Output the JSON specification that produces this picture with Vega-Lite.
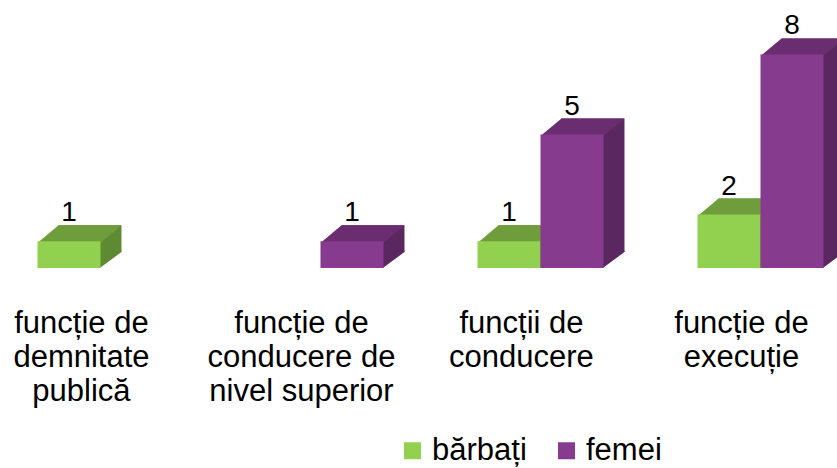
{
  "$schema": "https://vega.github.io/schema/vega-lite/v6.json",
  "autosize": "none",
  "width": 837,
  "height": 267,
  "padding": {"top": 1, "left": 0, "right": 0, "bottom": 200},
  "background": "white",
  "config": {
    "view": {"stroke": null},
    "font": "Liberation Sans"
  },
  "data": {
    "values": [
      {"cat": "funcție de demnitate publică", "serie": "bărbați", "v": 1},
      {"cat": "funcție de conducere de nivel superior", "serie": "femei", "v": 1},
      {"cat": "funcții de conducere", "serie": "bărbați", "v": 1},
      {"cat": "funcții de conducere", "serie": "femei", "v": 5},
      {"cat": "funcție de execuție", "serie": "bărbați", "v": 2},
      {"cat": "funcție de execuție", "serie": "femei", "v": 8}
    ]
  },
  "encoding": {
    "x": {
      "field": "cat",
      "type": "nominal",
      "sort": ["funcție de demnitate publică", "funcție de conducere de nivel superior", "funcții de conducere", "funcție de execuție"],
      "scale": {"paddingInner": 0.4273, "paddingOuter": 0.1159, "align": 0.735},
      "axis": {
        "title": null,
        "domain": false,
        "ticks": false,
        "labelAngle": 0,
        "labelFontSize": 31,
        "labelColor": "black",
        "labelFont": "Liberation Sans",
        "labelLineHeight": 34,
        "labelPadding": 40,
        "labelOffset": -19,
        "labelLimit": 0,
        "labelOverlap": false,
        "labelBound": false,
        "labelExpr": "datum.label == 'funcție de demnitate publică' ? ['funcție de','demnitate','publică'] : datum.label == 'funcție de conducere de nivel superior' ? ['funcție de','conducere de','nivel superior'] : datum.label == 'funcții de conducere' ? ['funcții de','conducere'] : ['funcție de','execuție']"
      }
    },
    "y": {
      "field": "v",
      "type": "quantitative",
      "scale": {"domain": [0, 10], "nice": false, "zero": true},
      "axis": null
    }
  },
  "layer": [
    {
      "transform": [{"filter": "datum.serie == 'bărbați'"}],
      "mark": {"type": "bar", "width": {"band": 0.5}, "xOffset": -10.5, "yOffset": -16, "color": "#5E8A33"}
    },
    {
      "transform": [{"filter": "datum.serie == 'femei'"}],
      "mark": {"type": "bar", "width": {"band": 0.5}, "xOffset": 52.5, "yOffset": -16, "color": "#5A2760"}
    },
    {
      "mark": {"type": "point", "filled": true, "opacity": 1, "strokeWidth": 0, "size": 3969,
        "shape": "M 0.98 0 L 0.98 -0.55 L 1.6667 -0.55 L 1.6667 -0.5079 Z"},
      "encoding": {
        "xOffset": {"field": "serie", "type": "nominal", "scale": {"domain": ["bărbați", "femei"], "paddingInner": 0, "paddingOuter": 0}},
        "y": {"datum": 0, "type": "quantitative"},
        "color": {
          "field": "serie",
          "type": "nominal",
          "scale": {"domain": ["bărbați", "femei"], "range": ["#5E8A33", "#5A2760"]},
          "legend": null
        }
      }
    },
    {
      "mark": {"type": "point", "filled": true, "opacity": 1, "strokeWidth": 0, "size": 3969,
        "shape": "M -1 0.05 L 1 0.05 L 1.6667 -0.5079 L -0.3333 -0.5079 Z"},
      "encoding": {
        "xOffset": {"field": "serie", "type": "nominal", "scale": {"domain": ["bărbați", "femei"], "paddingInner": 0, "paddingOuter": 0}},
        "color": {
          "field": "serie",
          "type": "nominal",
          "scale": {"domain": ["bărbați", "femei"], "range": ["#6F9D3C", "#6A2E70"]},
          "legend": null
        }
      }
    },
    {
      "mark": {"type": "bar"},
      "encoding": {
        "xOffset": {"field": "serie", "type": "nominal", "scale": {"domain": ["bărbați", "femei"], "paddingInner": 0, "paddingOuter": 0}},
        "color": {
          "field": "serie",
          "type": "nominal",
          "scale": {"domain": ["bărbați", "femei"], "range": ["#92D050", "#873B8E"]},
          "legend": {
            "title": null,
            "orient": "none",
            "direction": "horizontal",
            "legendX": 397,
            "legendY": 434,
            "padding": 0,
            "symbolType": "square",
            "symbolSize": 289,
            "symbolStrokeWidth": 0,
            "labelFontSize": 31,
            "labelFont": "Liberation Sans",
            "labelColor": "black",
            "labelOffset": 4,
            "columnPadding": 24,
            "labelLimit": 0
          }
        }
      }
    },
    {
      "mark": {"type": "text", "dy": -20, "baseline": "alphabetic", "align": "center", "fontSize": 28, "font": "Liberation Sans", "color": "black"},
      "encoding": {
        "xOffset": {"field": "serie", "type": "nominal", "scale": {"domain": ["bărbați", "femei"], "paddingInner": 0, "paddingOuter": 0}},
        "text": {"field": "v", "type": "quantitative"}
      }
    }
  ],
  "resolve": {"scale": {"color": "independent"}}
}
